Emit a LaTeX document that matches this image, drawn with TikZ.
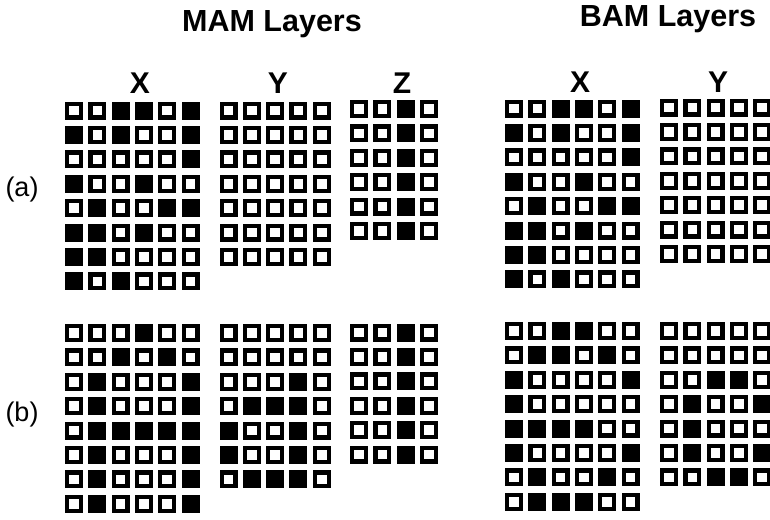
\documentclass[tikz,border=0pt]{standalone}
\usepackage{fontspec}
\setmainfont{Liberation Sans}
\usepackage{tikz}
\tikzset{
  oncell/.style={fill=black},
  offcell/.style={draw=black,fill=white,line width=4.2pt},
  headtxt/.style={font=\fontsize{30.5}{32}\selectfont\bfseries,anchor=base},
  layertxt/.style={font=\fontsize{30}{32}\selectfont\bfseries,anchor=base},
  casetxt/.style={font=\fontsize{27}{30}\selectfont,anchor=base},
}
% one layer of cells: #1 = left, #2 = top, #3 = rows (1 = active)
\newcommand\layergrid[3]{%
  \foreach \cellrow [count=\r from 0] in {#3}{%
    \foreach \v [count=\c from 0] in \cellrow{%
      \ifnum\v=1
        \fill[oncell] ({#1+\c*23.3},{#2+\r*24.4}) rectangle ++(18,18);
      \else
        \draw[offcell] ({#1+\c*23.3+2.1},{#2+\r*24.4+2.1}) rectangle ++(13.8,13.8);
      \fi
    }%
  }%
}
\begin{document}
\begin{tikzpicture}[x=1pt,y=-1pt]
  \useasboundingbox (0,0) rectangle (770,519);
  % headings
  \node[headtxt] (mamhead) at (272,32) {MAM Layers};
  \node[headtxt] (bamhead) at (668,27) {BAM Layers};
  \node[layertxt] (mamx) at (140,93) {X};
  \node[layertxt] (mamy) at (278,93) {Y};
  \node[layertxt] (mamz) at (402,93) {Z};
  \node[layertxt] (bamx) at (580,92) {X};
  \node[layertxt] (bamy) at (718,92) {Y};
  \node[casetxt] (casea) at (22,196) {(a)};
  \node[casetxt] (caseb) at (22,421) {(b)};
  % (a) MAM
  \layergrid{65}{101.5}{{0,0,1,1,0,1},{1,0,1,0,0,1},{0,0,0,0,0,1},{1,0,0,1,0,0},
    {0,1,0,0,1,1},{1,1,0,1,0,0},{1,1,0,0,0,0},{1,0,1,0,0,0}}
  \layergrid{219.5}{101.5}{{0,0,0,0,0},{0,0,0,0,0},{0,0,0,0,0},{0,0,0,0,0},
    {0,0,0,0,0},{0,0,0,0,0},{0,0,0,0,0}}
  \layergrid{350}{100}{{0,0,1,0},{0,0,1,0},{0,0,1,0},{0,0,1,0},{0,0,1,0},{0,0,1,0}}
  % (a) BAM
  \layergrid{505}{99.5}{{0,0,1,1,0,1},{1,0,1,0,0,1},{0,0,0,0,0,1},{1,0,0,1,0,0},
    {0,1,0,0,1,1},{1,1,0,1,0,0},{1,1,0,0,0,0},{1,0,1,0,0,0}}
  \layergrid{660}{98.5}{{0,0,0,0,0},{0,0,0,0,0},{0,0,0,0,0},{0,0,0,0,0},
    {0,0,0,0,0},{0,0,0,0,0},{0,0,0,0,0}}
  % (b) MAM
  \layergrid{65}{324}{{0,0,0,1,0,0},{0,0,1,0,1,0},{0,1,0,0,0,1},{0,1,0,0,0,1},
    {0,1,1,1,1,1},{0,1,0,0,0,1},{0,1,0,0,0,1},{0,1,0,0,0,1}}
  \layergrid{219.5}{324}{{0,0,0,0,0},{0,0,0,0,0},{0,0,0,1,0},{0,1,1,1,0},
    {1,0,0,1,0},{1,0,0,1,0},{0,1,1,1,0}}
  \layergrid{350}{323.5}{{0,0,1,0},{0,0,1,0},{0,0,1,0},{0,0,1,0},{0,0,1,0},{0,0,1,0}}
  % (b) BAM
  \layergrid{505}{322}{{0,0,1,1,0,0},{0,1,1,0,1,0},{1,0,0,0,0,1},{1,0,0,0,0,0},
    {1,1,1,1,0,0},{1,0,0,0,0,1},{0,1,0,0,1,0},{0,1,1,1,0,0}}
  \layergrid{660}{322}{{0,0,0,0,0},{0,0,0,0,0},{0,0,1,1,0},{0,1,0,0,1},
    {0,1,0,0,0},{0,1,0,0,1},{0,0,1,1,0}}
\end{tikzpicture}
\end{document}
